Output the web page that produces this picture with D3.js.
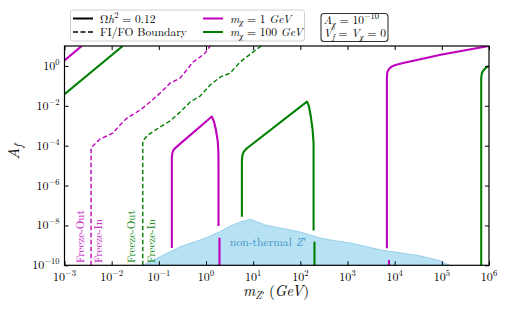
<!DOCTYPE html>
<html>
<head>
<meta charset="utf-8">
<script src="https://cdn.jsdelivr.net/npm/d3@7"></script>
<style>
  body { margin: 0; background: #fff; }
</style>
</head>
<body>
<div id="chart"></div>
<script>
// all points are [log10(m_Z' / GeV), log10(A_f)]
const xTickExps = [-3, -2, -1, 0, 1, 2, 3, 4, 5, 6];
const yTickExps = [0, -2, -4, -6, -8, -10];

// m_chi = 1 GeV, relic density contours
const m1TopLeft = [[-3, 0.27], [-2.635, 1.0]];
const m1Mid = [[-0.724, -9.13], [-0.724, -4.6], [-0.715, -4.38], [-0.69, -4.22], [-0.65, -4.12],
  [-0.6, -4.01], [0.125, -2.54], [0.17, -2.8], [0.21, -3.2], [0.25, -3.8], [0.262, -4.3],
  [0.265, -5.0], [0.265, -8.03]];
const m1MidLow = [[0.286, -8.62], [0.286, -10]];
const m1Right = [[3.835, -9.15], [3.835, -0.6], [3.845, -0.3], [3.88, -0.15], [3.93, -0.04],
  [4.0, 0.03], [4.157, 0.13], [5.0, 0.57], [6.0, 1.0]];
const m1RightLow = [[3.88, -9.73], [3.88, -10]];

// m_chi = 100 GeV
const g100TopLeft = [[-3, -1.42], [-1.765, 1.0]];
const g100Mid = [[0.761, -7.56], [0.761, -4.8], [0.77, -4.5], [0.8, -4.3], [0.868, -4.13],
  [0.95, -3.98], [2.141, -1.79], [2.18, -2.0], [2.22, -2.5], [2.26, -3.2], [2.281, -3.9],
  [2.281, -8.26]];
const g100MidLow = [[2.3, -8.82], [2.3, -10]];
const g100Right = [[5.835, -10], [5.835, -0.6], [5.85, -0.35], [5.89, -0.2], [5.93, -0.1], [6.0, 0.0]];

// freeze-in / freeze-out boundaries
const m1Bound = [[-2.437, -10], [-2.437, -4.11], [-2.395, -4.01], [-2.246, -3.66], [-2.098, -3.51],
  [-1.97, -3.36], [-1.822, -2.96], [-1.673, -2.61], [-1.395, -2.21], [-1.185, -1.81],
  [-0.973, -1.36], [-0.76, -0.86], [-0.548, -0.61], [-0.272, 0.2], [-0.124, 0.45],
  [-0.018, 0.65], [0.088, 1.0]];
const g100Bound = [[-1.34, -10], [-1.34, -3.76], [-1.228, -3.46], [-0.973, -3.06], [-0.76, -2.76],
  [-0.548, -2.31], [-0.336, -1.81], [-0.124, -1.51], [0.088, -0.96], [0.3, -0.56],
  [0.512, -0.36], [0.725, 0.2], [1.0, 0.7], [1.17, 1.0]];

// upper edge of the non-thermal Z' region
const nonThermal = [[-1.334, -10], [-0.973, -9.57], [-0.548, -9.07], [-0.124, -8.73], [0.088, -8.53],
  [0.3, -8.31], [0.512, -8.03], [0.725, -7.83], [0.937, -7.7], [1.04, -7.78], [1.255, -7.98],
  [1.573, -8.13], [1.998, -8.33], [2.42, -8.63], [2.63, -8.73], [3.06, -8.88], [3.7, -9.23],
  [4.547, -9.53], [4.97, -9.78], [5.16, -10]];

const MAGENTA = "#bf00bf";
const GREEN = "#008000";
const FONT = "'Latin Modern Roman', 'CMU Serif', 'Liberation Serif', serif";

const width = 508, height = 311;
const plot = { left: 64.5, right: 489, top: 46, bottom: 265.3 };

const svg = d3.select("#chart").append("svg")
  .attr("width", width).attr("height", height);

// text helper: font family has to sit on the element itself
function txt(parent, size) {
  return parent.append("text")
    .style("font-family", FONT)
    .style("font-size", size + "px");
}
const sub = (t, s, text, dy, italic) => t.append("tspan")
  .attr("dy", dy).style("font-size", s + "px")
  .style("font-style", italic ? "italic" : "normal").text(text);
const it = (t, text) => t.append("tspan").style("font-style", "italic").text(text);
const rm = (t, text, dy) => t.append("tspan").attr("dy", dy || 0).text(text);

const x = d3.scaleLog().domain([1e-3, 1e6]).range([plot.left, plot.right]);
const y = d3.scaleLog().domain([1e-10, 1e1]).range([plot.bottom, plot.top]);
const px = d => x(Math.pow(10, d[0]));
const py = d => y(Math.pow(10, d[1]));

svg.append("clipPath").attr("id", "clip")
  .append("rect")
  .attr("x", plot.left).attr("y", plot.top)
  .attr("width", plot.right - plot.left).attr("height", plot.bottom - plot.top);

const g = svg.append("g").attr("clip-path", "url(#clip)");

// non-thermal region
g.append("path")
  .datum(nonThermal)
  .attr("d", d3.area().x(px).y0(y(1e-10)).y1(py))
  .attr("fill", "#b7e2f3")
  .attr("stroke", "#95cfea")
  .attr("stroke-width", 1);

const nt = txt(g, 11.6).attr("x", 230).attr("y", 246).attr("fill", "#3d8fc4");
rm(nt, "non-thermal ");
it(nt, "Z\u2032");

const line = d3.line().x(px).y(py);

function drawLine(data, color, dashed) {
  g.append("path")
    .datum(data)
    .attr("d", line)
    .attr("fill", "none")
    .attr("stroke", color)
    .attr("stroke-width", dashed ? 1.4 : 2.1)
    .attr("stroke-dasharray", dashed ? "4.5,2.5" : null)
    .attr("stroke-linejoin", "round");
}

[m1TopLeft, m1Mid, m1MidLow, m1Right, m1RightLow].forEach(d => drawLine(d, MAGENTA, false));
[g100TopLeft, g100Mid, g100MidLow, g100Right].forEach(d => drawLine(d, GREEN, false));
drawLine(m1Bound, MAGENTA, true);
drawLine(g100Bound, GREEN, true);

// vertical Freeze-Out / Freeze-In labels
const freezeLabels = [
  { text: "Freeze-Out", xc: 80.7, color: MAGENTA },
  { text: "Freeze-In", xc: 98.8, color: MAGENTA },
  { text: "Freeze-Out", xc: 131.7, color: GREEN },
  { text: "Freeze-In", xc: 151.5, color: GREEN }
];
freezeLabels.forEach(l => {
  txt(svg, 11)
    .attr("transform", `translate(${l.xc + 3.6},263) rotate(-90)`)
    .attr("fill", l.color)
    .text(l.text);
});

// axes with inward ticks
function addAxis(axis, tx, ty) {
  const a = svg.append("g").attr("transform", `translate(${tx},${ty})`).call(axis);
  a.select(".domain").remove();
  a.selectAll(".tick line").attr("stroke", "#000").attr("stroke-width", 1);
  a.selectAll(".tick text").remove();
  return a;
}
const xVals = xTickExps.map(e => Math.pow(10, e));
const yVals = yTickExps.map(e => Math.pow(10, e));
addAxis(d3.axisBottom(x).tickValues(xVals).tickSizeInner(-4).tickSizeOuter(0), 0, plot.bottom);
addAxis(d3.axisTop(x).tickValues(xVals).tickSizeInner(-4).tickSizeOuter(0), 0, plot.top);
addAxis(d3.axisLeft(y).tickValues(yVals).tickSizeInner(-4).tickSizeOuter(0), plot.left, 0);
addAxis(d3.axisRight(y).tickValues(yVals).tickSizeInner(-4).tickSizeOuter(0), plot.right, 0);

const fmtExp = e => (e < 0 ? "\u2212" + (-e) : String(e));

xTickExps.forEach(e => {
  const t = txt(svg, 12)
    .attr("x", x(Math.pow(10, e))).attr("y", 281)
    .attr("text-anchor", "middle");
  rm(t, "10");
  sub(t, 8.5, fmtExp(e), -5, false);
});
yTickExps.forEach(e => {
  const t = txt(svg, 12)
    .attr("x", 59.5).attr("y", y(Math.pow(10, e)) + 4)
    .attr("text-anchor", "end");
  rm(t, "10");
  sub(t, 8.5, fmtExp(e), -5, false);
});

// frame
svg.append("rect")
  .attr("x", plot.left).attr("y", plot.top)
  .attr("width", plot.right - plot.left).attr("height", plot.bottom - plot.top)
  .attr("fill", "none").attr("stroke", "#000").attr("stroke-width", 1.2);

// axis titles
const xt = txt(svg, 15).attr("x", 276).attr("y", 296).attr("text-anchor", "middle");
it(xt, "m");
sub(xt, 10.5, "Z\u2032", 3, true);
rm(xt, " (", -3);
it(xt, "GeV");
rm(xt, ")");

const yt = txt(svg, 16).attr("transform", "translate(19,152) rotate(-90)").attr("text-anchor", "middle");
it(yt, "A");
sub(yt, 11, "f", 3, true);

// legend
const leg = svg.append("g");
leg.append("rect")
  .attr("x", 70.5).attr("y", 10).attr("width", 234).attr("height", 31)
  .attr("rx", 2.5)
  .attr("fill", "#fff").attr("stroke", "#d0d0d0").attr("stroke-width", 1);

const legItems = [
  { x: 73, y: 18.5, color: "#000", dashed: false, label: "omega" },
  { x: 73, y: 32, color: "#000", dashed: true, label: "bound" },
  { x: 203, y: 18.5, color: MAGENTA, dashed: false, label: "1" },
  { x: 203, y: 32, color: GREEN, dashed: false, label: "100" }
];
legItems.forEach(d => {
  leg.append("line")
    .attr("x1", d.x).attr("x2", d.x + 20)
    .attr("y1", d.y).attr("y2", d.y)
    .attr("stroke", d.color)
    .attr("stroke-width", d.dashed ? 1.6 : 2)
    .attr("stroke-dasharray", d.dashed ? "5,2.5" : null);
  const t = txt(leg, 11.5).attr("x", d.x + 27).attr("y", d.y + 4);
  if (d.label === "omega") {
    rm(t, "\u03A9");
    it(t, "h");
    sub(t, 8.5, "2", -5, false);
    rm(t, " = 0.12", 5);
  } else if (d.label === "bound") {
    t.text("FI/FO Boundary");
  } else {
    it(t, "m");
    sub(t, 8.5, "\u03C7", 2.5, true);
    rm(t, " = " + d.label + " ", -2.5);
    it(t, "GeV");
  }
});

// parameter box
const box = svg.append("g");
box.append("rect")
  .attr("x", 321).attr("y", 13.5).attr("width", 67).attr("height", 28)
  .attr("rx", 3)
  .attr("fill", "#fff").attr("stroke", "#333").attr("stroke-width", 1.1);
const b1 = txt(box, 11.5).attr("x", 323.5).attr("y", 24);
it(b1, "A");
sub(b1, 8.5, "\u03C7", 2.5, true);
rm(b1, " = 10", -2.5);
sub(b1, 8.5, "\u221210", -5, false);
const b2 = txt(box, 11.5).attr("x", 323.5).attr("y", 37);
it(b2, "V");
sub(b2, 8.5, "f", 2.5, true);
rm(b2, " = ", -2.5);
it(b2, "V");
sub(b2, 8.5, "\u03C7", 2.5, true);
rm(b2, " = 0", -2.5);
</script>
</body>
</html>
